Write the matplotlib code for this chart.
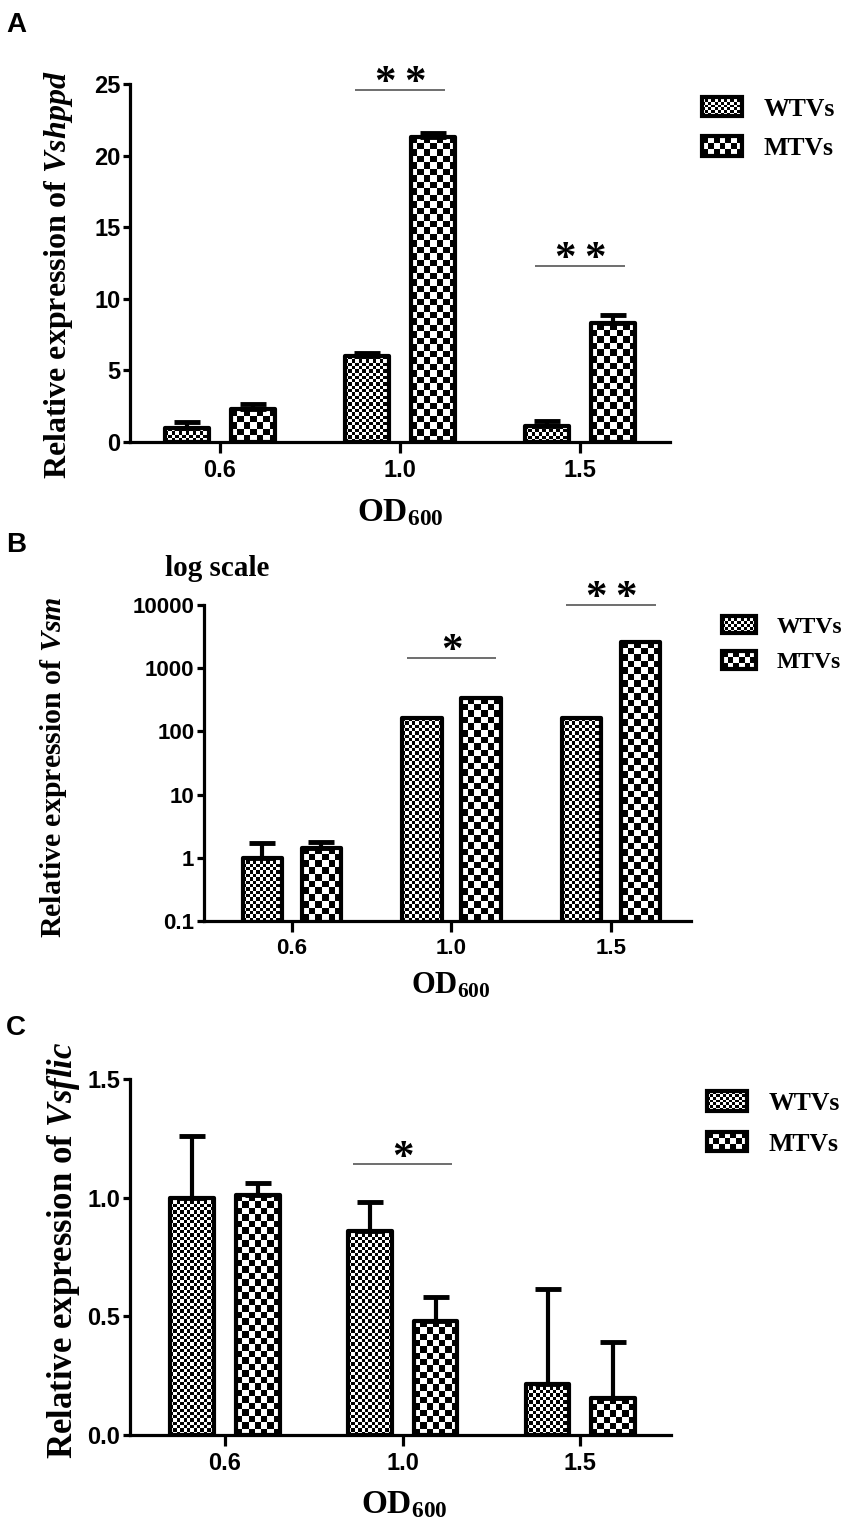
import numpy as np
import matplotlib
matplotlib.use('Agg')
import matplotlib.pyplot as plt
from matplotlib.patches import Patch
from matplotlib.transforms import Bbox
from matplotlib.ticker import FixedLocator, NullLocator

plt.rcParams['font.family'] = ['Liberation Sans', 'DejaVu Sans']
plt.rcParams['font.weight'] = 'bold'
plt.rcParams['mathtext.fontset'] = 'custom'
plt.rcParams['mathtext.rm'] = 'Liberation Serif:bold'
plt.rcParams['mathtext.bf'] = 'Liberation Serif:bold'
plt.rcParams['mathtext.it'] = 'Liberation Serif:italic:bold'
plt.rcParams['mathtext.bfit'] = 'Liberation Serif:italic:bold'

# ---------------- data ----------------
groups = ['0.6', '1.0', '1.5']
series = ['WTVs', 'MTVs']

a_wtv = [1.0, 6.0, 1.1]
a_wtv_err = [0.4, 0.2, 0.4]
a_mtv = [2.3, 21.3, 8.3]
a_mtv_err = [0.35, 0.3, 0.6]
a_sig = ['', '**', '**']
a_sig_y = [None, 24.6, 12.3]
a_yticks = [0, 5, 10, 15, 20, 25]

b_wtv = [1.0, 160, 160]
b_wtv_err = [0.7, 0, 0]
b_mtv = [1.45, 340, 2600]
b_mtv_err = [0.3, 0, 0]
b_sig = ['', '*', '**']
b_sig_y = [None, 1450, 10000]
b_yticks = [0.1, 1, 10, 100, 1000, 10000]

c_wtv = [1.0, 0.86, 0.215]
c_wtv_err = [0.26, 0.12, 0.40]
c_mtv = [1.01, 0.48, 0.155]
c_mtv_err = [0.05, 0.10, 0.235]
c_sig = ['', '*', '']
c_sig_y = [None, 1.14, None]
c_yticks = [0.0, 0.5, 1.0, 1.5]

# ---------------- layout ----------------
W, H = 851, 1530
fig = plt.figure(figsize=(W / 100, H / 100), dpi=100)
fig.patch.set_facecolor('white')


def px_axes(l, r, top, bottom):
    ax = fig.add_axes([l / W, 1 - bottom / H, (r - l) / W, (bottom - top) / H])
    ax.set_facecolor('none')
    return ax


ov = fig.add_axes([0, 0, 1, 1], zorder=-5)
ov.set_xlim(0, W)
ov.set_ylim(0, H)
ov.set_autoscale_on(False)
ov.axis('off')

BW = 0.245
OFF = 0.185
CELL = {'WTVs': 3.3, 'MTVs': 6.5}
bar_items = []   # (patch, axes, series)
legend_items = []


def panel(ax, wtv, wtv_err, mtv, mtv_err, sig, sig_y, yticks, ylim, xlim,
          log=False, tick_fs=17, ylabel='', yl_fs=23, yl_pos=(-0.13, 0.5),
          xl_pos=(0.5, -0.2), xl_fs=22, star_fs=31, sig_half=0.25,
          leg_anchor=(0.82, 0.9), leg_fs=18.5, leg_hl=1.56, leg_hh=0.78, leg_ls=0.61,
          leg_tp=0.82):
    x = np.arange(len(groups))
    if log:
        ax.set_yscale('log')
    for sname, vals, errs, sgn in (('WTVs', wtv, wtv_err, -1), ('MTVs', mtv, mtv_err, 1)):
        bars = ax.bar(x + sgn * OFF, vals, BW, facecolor='none', edgecolor='black',
                      linewidth=3, joinstyle='round', zorder=2)
        for p in bars:
            bar_items.append((p, ax, sname))
        for xi, v, e in zip(x + sgn * OFF, vals, errs):
            if e > 0:
                ax.errorbar(xi, v, yerr=[[0], [e]], fmt='none', ecolor='black',
                            elinewidth=3, capsize=9.5, capthick=3.5, zorder=3)
    for xi, s, sy in zip(x, sig, sig_y):
        if s and sy is not None:
            ax.plot([xi - sig_half, xi + sig_half], [sy, sy], color='#555555', lw=1.2,
                    solid_capstyle='butt', zorder=3, clip_on=False)
            n = len(s)
            for k in range(n):
                dx = (k - (n - 1) / 2) * 21.5
                ax.annotate('*', xy=(xi, sy), xytext=(dx, -3), textcoords='offset points',
                            ha='center', va='baseline', fontsize=star_fs,
                            family='Liberation Serif', fontweight='bold', annotation_clip=False)
    ax.set_xlim(*xlim)
    ax.set_ylim(*ylim)
    ax.set_xticks(x)
    ax.set_xticklabels(groups, fontsize=tick_fs, fontweight='bold')
    ax.yaxis.set_major_locator(FixedLocator(yticks))
    ax.yaxis.set_minor_locator(NullLocator())
    if log or max(yticks) > 2:
        ylabels = ['{:g}'.format(t) for t in yticks]
    else:
        ylabels = ['{:.1f}'.format(t) for t in yticks]
    ax.set_yticklabels(ylabels, fontsize=tick_fs, fontweight='bold')
    for s in ('top', 'right'):
        ax.spines[s].set_visible(False)
    for s in ('left', 'bottom'):
        ax.spines[s].set_linewidth(2.3)
    ax.tick_params(axis='y', direction='out', width=2.3, length=5, pad=2)
    ax.tick_params(axis='x', direction='out', width=2.3, length=8, pad=4)
    ax.set_ylabel(ylabel, fontsize=yl_fs, family='Liberation Serif', fontweight='bold', va='center')
    ax.yaxis.set_label_coords(*yl_pos)
    ax.set_xlabel(r'OD$_{\mathbf{600}}$', fontsize=xl_fs, family='Liberation Serif',
                  fontweight='bold', va='baseline')
    ax.xaxis.set_label_coords(*xl_pos)
    handles = [Patch(facecolor='none', edgecolor='black', linewidth=3, joinstyle='round')
               for _ in series]
    leg = ax.legend(handles, series, loc='center left', bbox_to_anchor=leg_anchor,
                    bbox_transform=fig.transFigure, frameon=False, borderpad=0,
                    borderaxespad=0, handlelength=leg_hl, handleheight=leg_hh,
                    labelspacing=leg_ls, handletextpad=leg_tp,
                    prop={'family': 'Liberation Serif', 'weight': 'bold', 'size': leg_fs})
    legend_items.append(leg)
    return ax


axA = px_axes(130, 670, 84, 442)
panel(axA, a_wtv, a_wtv_err, a_mtv, a_mtv_err, a_sig, a_sig_y, a_yticks, (0, 25), (-0.5, 2.5),
      tick_fs=17, ylabel=r'Relative expression of $\mathbfit{Vshppd}$', yl_fs=23,
      yl_pos=(-0.133, 0.466), xl_pos=(0.5, -0.222), xl_fs=24,
      leg_anchor=(702 / W, 1 - 128.5 / H))

axB = px_axes(204, 691, 605, 921)
panel(axB, b_wtv, b_wtv_err, b_mtv, b_mtv_err, b_sig, b_sig_y, b_yticks, (0.1, 10000), (-0.55, 2.5),
      log=True, tick_fs=16, ylabel=r'Relative expression of $\mathbfit{Vsm}$', yl_fs=21.5,
      yl_pos=(-0.31, 0.487), xl_pos=(0.506, -0.231), xl_fs=22, sig_half=0.28,
      leg_anchor=(722 / W, 1 - 644.5 / H), leg_fs=17, leg_hl=1.44, leg_hh=0.76,
      leg_ls=0.57, leg_tp=0.89)
axB.text(-0.08, 1.092, 'log scale', transform=axB.transAxes, ha='left', va='baseline',
         fontsize=21, family='Liberation Serif', fontweight='bold')

axC = px_axes(130, 671, 1079, 1435)
panel(axC, c_wtv, c_wtv_err, c_mtv, c_mtv_err, c_sig, c_sig_y, c_yticks, (0, 1.5), (-0.535, 2.51),
      tick_fs=17, ylabel=r'Relative expression of $\mathbfit{Vsflic}$', yl_fs=25,
      yl_pos=(-0.122, 0.52), xl_pos=(0.506, -0.219), xl_fs=24, sig_half=0.28,
      leg_anchor=(707 / W, 1 - 1123.5 / H), leg_ls=0.67)

for lab, yb in (('A', 32), ('B', 552), ('C', 1035)):
    fig.text(6 / W, 1 - yb / H, lab, ha='left', va='baseline', fontsize=20, fontweight='bold',
             family='Liberation Sans')

# ---------------- checker fills ----------------
fig.canvas.draw()


def checker(bb, cell):
    w, h = bb.width, bb.height
    if w <= 0 or h <= 0:
        return
    nx = max(1, int(round(w / cell)))
    ny = max(1, int(round(h / cell)))
    arr = np.add.outer(np.arange(ny), np.arange(nx)) % 2
    ov.imshow(arr, cmap='gray', vmin=0, vmax=1, extent=(bb.x0, bb.x1, bb.y0, bb.y1),
              interpolation='nearest', aspect='auto', origin='lower', zorder=1)


for p, ax, sname in bar_items:
    bb = Bbox.intersection(p.get_window_extent(), ax.bbox)
    if bb is not None:
        checker(bb, CELL[sname])
for leg in legend_items:
    for p, sname in zip(leg.get_patches(), series):
        checker(p.get_window_extent(), CELL[sname] * 0.9)

fig.savefig('out.png', dpi=100)
